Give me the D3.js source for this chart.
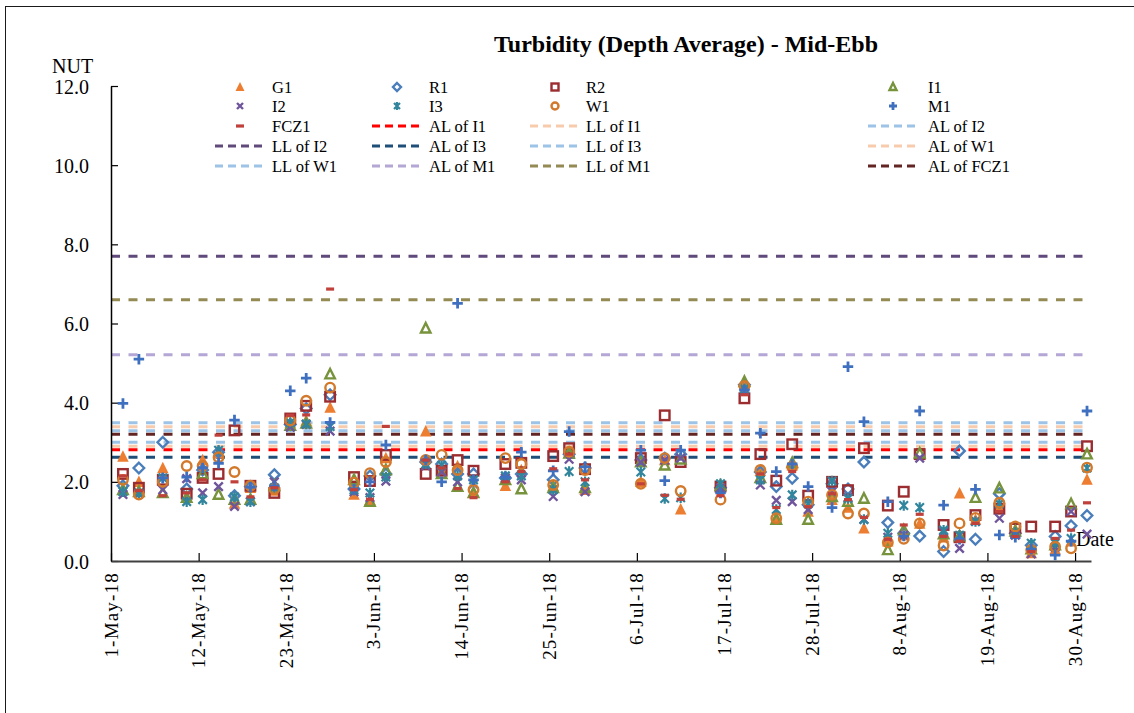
<!DOCTYPE html>
<html>
<head>
<meta charset="utf-8">
<script src="https://cdn.jsdelivr.net/npm/d3@7"></script>
<style>
  body { margin: 0; background: #fff; }
  svg { display: block; }
  text { font-family: "Liberation Serif", "Times New Roman", serif; fill: #000; }
</style>
</head>
<body>
<svg id="chart" width="1134" height="713"></svg>
<script>
// Sampling dates (Mon / Wed / Fri monitoring, May - Aug 2018)
const dates = [
  "2018-05-02","2018-05-04","2018-05-07","2018-05-10","2018-05-12","2018-05-14","2018-05-16","2018-05-18",
  "2018-05-21","2018-05-23","2018-05-25","2018-05-28","2018-05-31","2018-06-02","2018-06-04","2018-06-09",
  "2018-06-11","2018-06-13","2018-06-15","2018-06-19","2018-06-21","2018-06-25","2018-06-27","2018-06-29",
  "2018-07-06","2018-07-09","2018-07-11","2018-07-16","2018-07-19","2018-07-21","2018-07-23","2018-07-25",
  "2018-07-27","2018-07-30","2018-08-01","2018-08-03","2018-08-06","2018-08-08","2018-08-10","2018-08-13",
  "2018-08-15","2018-08-17","2018-08-20","2018-08-22","2018-08-24","2018-08-27","2018-08-29","2018-08-31"
];

// Depth-averaged turbidity (NTU) per station
const G1 = [2.64,2.00,2.35,1.60,2.55,2.72,1.45,1.85,1.78,3.50,3.55,3.88,1.68,1.55,2.60,3.28,
            2.30,2.40,1.75,1.90,2.30,1.90,2.75,1.80,2.00,2.55,1.31,1.90,4.45,2.28,1.10,2.42,
            1.25,1.55,1.35,0.83,0.50,0.65,0.95,0.60,1.71,1.05,1.40,0.80,0.20,0.30,0.50,2.06];
const R1 = [1.90,2.35,3.00,1.82,2.30,2.75,1.65,1.88,2.18,3.45,3.85,4.20,1.82,2.15,2.20,2.50,
            2.45,2.20,2.20,2.10,2.20,2.05,2.70,2.35,2.55,2.60,2.70,1.85,4.45,2.25,1.88,2.09,
            1.42,1.95,1.82,2.50,0.97,0.70,0.63,0.24,2.78,0.55,1.70,0.70,0.40,0.62,0.89,1.15];
const R2 = [2.20,1.85,2.05,1.70,2.10,2.20,3.30,1.90,1.72,3.60,3.92,4.15,2.12,2.02,2.68,2.20,
            2.28,2.55,2.28,2.45,2.48,2.65,2.85,2.32,2.60,3.68,2.50,1.88,4.11,2.70,2.03,2.95,
            1.65,2.00,1.79,2.85,1.40,1.75,2.70,0.91,0.60,1.16,1.32,0.82,0.87,0.87,1.25,2.90];
const I1 = [1.80,1.75,1.72,1.60,2.20,1.68,1.55,1.55,1.90,3.42,3.48,4.72,2.05,1.50,2.30,5.88,
            2.20,1.88,1.72,2.05,1.82,1.85,2.72,1.85,2.50,2.42,2.57,1.90,4.53,2.10,1.05,2.48,
            1.05,1.62,1.50,1.58,0.28,0.78,2.72,0.68,0.63,1.60,1.84,0.75,0.30,0.40,1.44,2.70];
const I2 = [1.68,1.70,1.80,2.08,1.72,1.88,1.38,1.50,2.00,3.38,3.45,3.28,1.75,1.60,2.02,2.40,
            2.25,2.00,1.95,2.10,2.05,1.63,2.57,1.75,2.50,2.55,2.60,1.85,4.30,1.92,1.53,1.50,
            1.30,1.75,1.60,1.05,0.60,0.65,2.60,0.75,0.32,1.00,1.08,0.65,0.18,0.35,1.25,0.68];
const I3 = [1.75,1.72,2.10,1.50,1.55,2.80,1.62,1.50,1.85,3.50,3.46,3.40,1.80,1.72,2.12,2.45,
            2.42,2.15,2.05,2.15,2.15,1.80,2.26,2.00,2.25,1.58,1.60,1.95,4.35,2.05,1.30,1.67,
            1.45,2.02,1.58,1.05,0.70,1.40,1.35,0.78,0.65,1.00,1.45,0.72,0.45,0.45,0.57,2.35];
const W1 = [2.05,1.68,2.00,2.40,2.40,2.62,2.25,1.90,1.82,3.55,4.05,4.38,1.98,2.22,2.50,2.55,
            2.68,2.30,1.80,2.60,2.45,1.92,2.76,2.30,1.95,2.60,1.77,1.55,4.42,2.30,1.08,2.38,
            1.50,1.67,1.20,1.20,0.47,0.56,0.95,0.39,0.95,1.09,1.47,0.87,0.28,0.36,0.32,2.36];
const M1 = [3.98,5.10,2.10,2.12,2.35,2.47,3.56,1.87,1.90,4.30,4.62,3.50,1.82,2.00,2.93,2.55,
            2.00,6.51,2.05,2.12,2.75,2.28,3.27,2.38,2.80,2.03,2.80,1.72,4.32,3.23,2.26,2.45,
            1.88,1.35,4.91,3.52,1.50,0.63,3.79,1.41,0.55,1.81,0.66,0.60,0.30,0.15,0.50,3.79];
const FCZ1 = [2.15,1.78,1.65,1.72,2.05,3.18,2.00,1.62,1.85,3.68,3.69,6.87,1.80,1.56,3.40,2.55,
              2.35,1.83,1.60,2.00,2.26,2.33,2.70,2.05,1.95,1.66,1.56,1.65,4.20,2.20,1.35,2.26,
              1.37,1.70,1.55,1.10,0.55,0.91,1.18,0.62,0.50,0.95,1.25,0.62,0.24,0.57,0.78,1.47];

const stationNames = ["G1","R1","R2","I1","I2","I3","W1","M1","FCZ1"];
const stationValues = [G1, R1, R2, I1, I2, I3, W1, M1, FCZ1];

// Action / limit levels (NTU)
const levelNames  = ["AL of I1","LL of I1","AL of I2","LL of I2","AL of I3","LL of I3",
                     "AL of W1","LL of W1","AL of M1","LL of M1","AL of FCZ1"];
const levelValues = [2.81, 3.39, 3.49, 7.70, 2.62, 3.29, 2.90, 3.00, 5.21, 6.60, 3.20];

const yTickValues = [0, 2, 4, 6, 8, 10, 12];
const xTickLabels = ["1-May-18","12-May-18","23-May-18","3-Jun-18","14-Jun-18","25-Jun-18",
                     "6-Jul-18","17-Jul-18","28-Jul-18","8-Aug-18","19-Aug-18","30-Aug-18"];

// ---- styling ----
const markerStyle = {
  G1:   { shape: "triFill",  color: "#ED7D31" },
  R1:   { shape: "diamond",  color: "#4A7EBB" },
  R2:   { shape: "square",   color: "#9B2D30" },
  I1:   { shape: "triOpen",  color: "#77933C" },
  I2:   { shape: "cross",    color: "#6F559B" },
  I3:   { shape: "star",     color: "#31859C" },
  W1:   { shape: "circle",   color: "#D2792B" },
  M1:   { shape: "plus",     color: "#3F70C0" },
  FCZ1: { shape: "dash",     color: "#C0413B" }
};
const levelColors = {
  "AL of I1": "#FF0000", "LL of I1": "#F8CBAD", "AL of I2": "#9DC3E6", "LL of I2": "#604A7B",
  "AL of I3": "#1F4E79", "LL of I3": "#9DC3E6", "AL of W1": "#F8CBAD", "LL of W1": "#9DC3E6",
  "AL of M1": "#B4A7D6", "LL of M1": "#948A54", "AL of FCZ1": "#632523"
};

const svg = d3.select("#chart");
const parse = d3.timeParse("%Y-%m-%d");
const fmt = d3.timeFormat("%-d-%b-%y");

const plot = { left: 111, right: 1091, top: 86, bottom: 561 };

// Days are categories: each sampling day sits in the middle of its day slot
const x = d3.scaleTime()
  .domain([parse("2018-05-01"), parse("2018-09-01")])
  .range([plot.left, plot.right]);
const y = d3.scaleLinear().domain([0, 12]).range([plot.bottom, plot.top]);
const mid = d => d3.timeHour.offset(parse(d), 12);

// chart frame
svg.append("rect")
  .attr("x", 5.5).attr("y", 6.5).attr("width", 1200).attr("height", 800)
  .attr("fill", "none").attr("stroke", "#1a1a1a").attr("stroke-width", 1);

// title
svg.append("text")
  .attr("x", 686).attr("y", 52).attr("text-anchor", "middle")
  .style("font-size", "24px").style("font-weight", "bold")
  .text("Turbidity (Depth Average) - Mid-Ebb");

svg.append("text").attr("x", 52).attr("y", 73).style("font-size", "20px").text("NUT");

// limit lines
const levelG = svg.append("g");
levelNames.forEach((name, i) => {
  levelG.append("line")
    .attr("x1", plot.left).attr("x2", plot.right)
    .attr("y1", y(levelValues[i])).attr("y2", y(levelValues[i]))
    .attr("stroke", levelColors[name]).attr("stroke-width", 3)
    .attr("stroke-dasharray", "9,8.5");
});

// axes
const yAxis = d3.axisLeft(y).tickValues(yTickValues).tickFormat(d3.format(".1f"))
  .tickSizeInner(-7).tickSizeOuter(0).tickPadding(22);
const gy = svg.append("g").attr("transform", `translate(${plot.left},0)`).call(yAxis);
gy.select(".domain").attr("stroke", "#000").attr("stroke-width", 1.5);
gy.selectAll(".tick line").attr("stroke", "#000").attr("stroke-width", 1.2);
gy.selectAll(".tick text").style("font-size", "20px")
  .style("font-family", '"Liberation Serif", serif').attr("dy", "0.35em");

const xTickDates = xTickLabels.map(s => d3.timeParse("%-d-%b-%y")(s));
const xAxis = d3.axisBottom(x).tickValues(xTickDates).tickFormat(fmt)
  .tickSizeInner(-8).tickSizeOuter(0);
const gx = svg.append("g").attr("transform", `translate(0,${plot.bottom})`).call(xAxis);
gx.select(".domain").attr("stroke", "#404040").attr("stroke-width", 2);
gx.selectAll(".tick line").attr("stroke", "#000").attr("stroke-width", 1.2);
gx.selectAll(".tick text")
  .style("font-size", "19px").style("font-family", '"Liberation Serif", serif')
  .style("letter-spacing", "1.2px")
  .attr("text-anchor", "end").attr("dy", null)
  .attr("transform", "translate(6,11) rotate(-90)")
  .attr("x", 0).attr("y", 0);

svg.append("text").attr("x", 1076).attr("y", 546).style("font-size", "20px").text("Date");

// marker drawing
function drawMarker(g, shape, color, cx, cy, s) {
  const h = s / 2;
  const sw = 2.4;
  switch (shape) {
    case "triFill":
      g.append("path").attr("d", `M${cx},${cy - h - 1}L${cx + h + 0.5},${cy + h}L${cx - h - 0.5},${cy + h}Z`)
        .attr("fill", color);
      break;
    case "triOpen":
      g.append("path").attr("d", `M${cx},${cy - h}L${cx + h - 0.5},${cy + h - 1}L${cx - h + 0.5},${cy + h - 1}Z`)
        .attr("fill", "none").attr("stroke", color).attr("stroke-width", sw);
      break;
    case "diamond":
      g.append("path").attr("d", `M${cx},${cy - h}L${cx + h},${cy}L${cx},${cy + h}L${cx - h},${cy}Z`)
        .attr("fill", "none").attr("stroke", color).attr("stroke-width", sw);
      break;
    case "square":
      g.append("rect").attr("x", cx - h + 0.5).attr("y", cy - h + 0.5)
        .attr("width", s - 1).attr("height", s - 1)
        .attr("fill", "none").attr("stroke", color).attr("stroke-width", sw);
      break;
    case "circle":
      g.append("circle").attr("cx", cx).attr("cy", cy).attr("r", h - 0.5)
        .attr("fill", "none").attr("stroke", color).attr("stroke-width", sw);
      break;
    case "cross":
      g.append("path").attr("d", `M${cx - h + 1},${cy - h + 1}L${cx + h - 1},${cy + h - 1}M${cx - h + 1},${cy + h - 1}L${cx + h - 1},${cy - h + 1}`)
        .attr("stroke", color).attr("stroke-width", sw);
      break;
    case "star":
      g.append("path").attr("d", `M${cx - h + 1},${cy - h + 1}L${cx + h - 1},${cy + h - 1}M${cx - h + 1},${cy + h - 1}L${cx + h - 1},${cy - h + 1}M${cx},${cy - h}L${cx},${cy + h}`)
        .attr("stroke", color).attr("stroke-width", 2.2);
      break;
    case "plus":
      g.append("path").attr("d", `M${cx - h},${cy}L${cx + h},${cy}M${cx},${cy - h}L${cx},${cy + h}`)
        .attr("stroke", color).attr("stroke-width", 2.8);
      break;
    case "dash":
      g.append("path").attr("d", `M${cx - 4},${cy}L${cx + 4},${cy}`)
        .attr("stroke", color).attr("stroke-width", 3.2);
      break;
  }
}

// data points
const pointsG = svg.append("g");
stationNames.forEach((name, si) => {
  const st = markerStyle[name];
  const g = pointsG.append("g").attr("class", "series-" + name);
  stationValues[si].forEach((v, i) => {
    drawMarker(g, st.shape, st.color, x(mid(dates[i])), y(v), 10.5);
  });
});

// legend: 4 columns x 5 rows
const legendItems = stationNames.map(n => ({ name: n, kind: "marker" }))
  .concat(levelNames.map(n => ({ name: n, kind: "line" })));
const colSample = [238, 395, 553, 891];
const colText = [272, 429, 586, 928];
const rowY = [87, 106, 126, 146, 166];
const legendG = svg.append("g");
legendItems.forEach((it, i) => {
  const c = i % 4, r = Math.floor(i / 4);
  const cy = rowY[r];
  if (it.kind === "marker") {
    const st = markerStyle[it.name];
    drawMarker(legendG, st.shape, st.color, colSample[c] + 2, cy, 8);
  } else {
    legendG.append("line")
      .attr("x1", colSample[c] - 23).attr("x2", colSample[c] + 24)
      .attr("y1", cy).attr("y2", cy)
      .attr("stroke", levelColors[it.name]).attr("stroke-width", 3)
      .attr("stroke-dasharray", "8,5");
  }
  legendG.append("text").attr("x", colText[c]).attr("y", cy).attr("dy", "0.35em")
    .style("font-size", "16.5px").text(it.name);
});
</script>
</body>
</html>
